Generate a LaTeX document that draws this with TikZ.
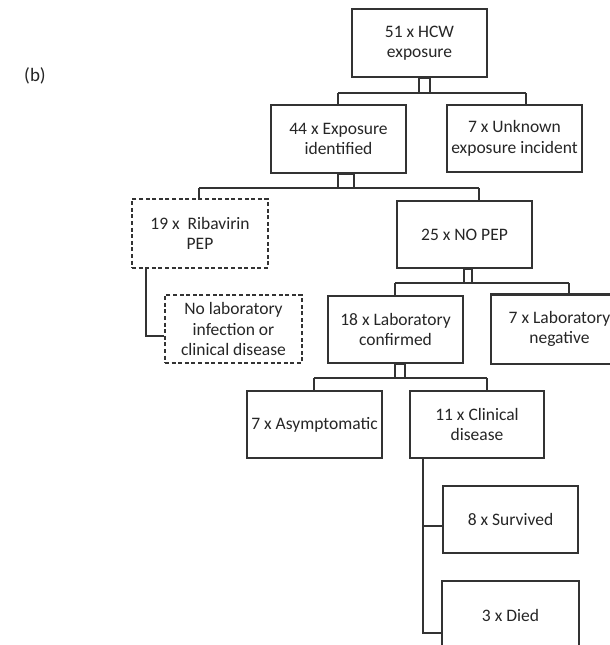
\documentclass[tikz,border=0pt]{standalone}
\usepackage{fontspec}
\setmainfont{Carlito}
\begin{document}
\begin{tikzpicture}[x=1pt,y=-1pt,
  box/.style={draw=black!80,line width=2.1pt,minimum width=135pt,minimum height=67pt,
    inner sep=1pt,align=center,text=black!85,font=\fontsize{17.5}{20.5}\selectfont},
  dbox/.style={box,dash pattern=on 4pt off 2.6pt},
  conn/.style={draw=black!80,line width=2pt},
  lbl/.style={text=black!85,font=\fontsize{19}{22}\selectfont}]
\useasboundingbox (0,0) rectangle (610,645);
\fill[white] (0,0) rectangle (610,645);

\node[lbl] (lab) at (35,76) {(b)};

\node[box,minimum height=68pt] (b51) at (419.5,43) {51 x HCW\\exposure};
\node[box,minimum height=68pt] (b44) at (338.5,139) {44 x Exposure\\identified};
\node[box] (b7u) at (514.5,138.5) {7 x Unknown\\exposure incident};
\node[dbox,minimum width=136pt,minimum height=69pt] (b19) at (200,233.5) {19 x~ Ribavirin\\PEP};
\node[box] (b25) at (464.5,234.5) {25 x NO PEP};
\node[dbox,minimum width=137pt,minimum height=68pt] (bno) at (233.5,329) {No laboratory\\infection or\\clinical disease};
\node[box] (b18) at (395.5,329.5) {18 x Laboratory\\confirmed};
\node[box,draw=none] (bneg) at (559.5,329) {7 x Laboratory\\negative};
\draw[draw=black!80,line width=2.1pt] (610,0 |- bneg.north) -- (bneg.north west) -- (bneg.south west) -- (610,0 |- bneg.south);
\node[box] (b7a) at (314.5,424.5) {7 x Asymptomatic};
\node[box,minimum width=134pt] (b11) at (477,424.5) {11 x Clinical\\disease};
\node[box] (b8) at (510.5,519.5) {8 x Survived};
\node[box,draw=none,minimum height=67pt] (b3) at (510.5,615.5) {3 x Died};
\draw[draw=black!80,line width=2.1pt] (b3.west |- 0,645) -- (b3.north west) -- (b3.north east) -- (b3.east |- 0,645);

% level 1
\coordinate (j1l) at (338,93); \coordinate (j1r) at (526,93);
\draw[conn] (j1l) -- (j1r);
\draw[conn] (j1l) -- (j1l |- b44.north);
\draw[conn] (j1r) -- (j1r |- b7u.north);
\draw[conn,fill=white] ([xshift=-0.5pt]b51.south) rectangle ([xshift=10.5pt]b51.south |- j1l);

% level 2
\coordinate (j2l) at (199,188); \coordinate (j2r) at (479,188);
\draw[conn] (j2l) -- (j2r);
\draw[conn] (j2l) -- (j2l |- b19.north);
\draw[conn] (j2r) -- (j2r |- b25.north);
\draw[conn,fill=white] ([xshift=-0.5pt]b44.south) rectangle ([xshift=15.5pt]b44.south |- j2l);

% ribavirin branch
\coordinate (j3) at (146,336);
\draw[conn] (j3 |- b19.south) -- (j3) -- (j3 -| bno.west);

% level 3
\coordinate (j4l) at (395,283); \coordinate (j4r) at (569,283);
\draw[conn] (j4l) -- (j4r);
\draw[conn] (j4l) -- (j4l |- b18.north);
\draw[conn] (j4r) -- (j4r |- bneg.north);
\draw[conn,fill=white] ([xshift=-0.5pt]b25.south) rectangle ([xshift=7.5pt]b25.south |- j4l);

% level 4
\coordinate (j5l) at (314,378); \coordinate (j5r) at (487,378);
\draw[conn] (j5l) -- (j5r);
\draw[conn] (j5l) -- (j5l |- b7a.north);
\draw[conn] (j5r) -- (j5r |- b11.north);
\draw[conn,fill=white] ([xshift=-0.5pt]b18.south) rectangle ([xshift=9.5pt]b18.south |- j5l);

% clinical branch
\coordinate (j6a) at (423,526); \coordinate (j6b) at (423,633);
\draw[conn] (j6a |- b11.south) -- (j6b) -- (j6b -| b3.west);
\draw[conn] (j6a) -- (j6a -| b8.west);
\end{tikzpicture}
\end{document}
